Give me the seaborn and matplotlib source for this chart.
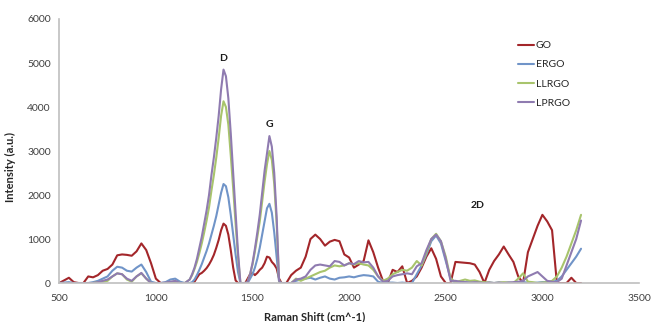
import numpy as np
import pandas as pd
import matplotlib
matplotlib.use("Agg")
import matplotlib.pyplot as plt
import seaborn as sns

# Raman shift sample positions (cm^-1): coarse, fine around D/G bands, coarse
shift = ([500 + 25 * i for i in range(28)]
         + [1187.5 + 12.5 * i for i in range(38)]
         + [1675 + 25 * i for i in range(62)])

go = ([0, 60, 120, 20, 0, 0, 150, 130, 180, 280, 320, 420, 630, 650, 640, 620, 720, 900, 750, 450,
       100, 0, 0, 0, 0, 0, 0, 0]
      + [0, 30, 120, 200, 230, 280, 340, 420, 520, 640, 800, 980, 1200, 1350, 1300, 1100, 750, 350, 60, 0,
         0, 0, 0, 100, 200, 230, 180, 230, 300, 350, 450, 600, 580, 480, 420, 330, 100, 0]
      + [0, 180, 280, 350, 600, 1000, 1100, 1000, 850, 940, 980, 950, 650,
         580, 350, 420, 500, 970, 700, 350, 50, 0, 300, 250, 380, 0, 50, 150, 350, 600, 790, 550, 150,
         0, 0, 480, 470, 460, 450, 420, 250, 0, 300, 500, 650, 830, 650, 480, 150, 0, 700, 1000, 1300,
         1550, 1400, 1200, 0, 0, 0, 120, 0, 0])

ergo = ([0, 10, 20, 0, 0, 0, 0, 20, 50, 100, 150, 280, 370, 350, 280, 260, 350, 420, 250, 30,
         0, 0, 20, 80, 100, 30, 0, 0]
        + [20, 80, 180, 300, 430, 580, 730, 900, 1100, 1300, 1520, 1780, 2050, 2250, 2200, 1950, 1550, 1100, 650, 250,
           0, 0, 0, 0, 100, 200, 350, 550, 800, 1100, 1400, 1700, 1800, 1600, 1150, 600, 30, 0]
        + [0, 0, 50, 80, 100, 120, 80, 120, 150, 100, 80, 120, 130,
           150, 130, 160, 180, 170, 150, 30, 0, 10, 10, 0, 10, 0, 0, 200, 400, 650, 950, 1080, 900,
           500, 100, 0, 10, 20, 10, 0, 10, 0, 10, 0, 10, 0, 10, 0, 10, 20, 10, 0, 10,
           20, 20, 30, 50, 150, 300, 450, 600, 780])

llrgo = ([0, 0, 0, 0, 0, 0, 0, 0, 20, 30, 50, 150, 220, 200, 80, 30, 150, 220, 100, 0,
          0, 0, 0, 20, 30, 0, 0, 80]
         + [180, 320, 480, 680, 900, 1150, 1420, 1720, 2100, 2450, 2850, 3300, 3800, 4130, 4000, 3600, 2900, 2150, 1350, 600,
            0, 0, 0, 30, 200, 420, 720, 1050, 1400, 1850, 2300, 2700, 3000, 2800, 2250, 1350, 50, 0]
         + [0, 0, 100, 50, 100, 150, 200, 250, 280, 350, 400, 380, 400,
            450, 420, 450, 420, 400, 300, 150, 50, 100, 200, 250, 300, 280, 350, 500, 400, 700, 1000, 1120, 950,
            600, 100, 20, 50, 80, 50, 60, 30, 20, 10, 0, 10, 20, 10, 0, 100, 220, 30, 20, 0,
            10, 20, 50, 150, 350, 600, 900, 1200, 1550])

lprgo = ([0, 0, 0, 0, 0, 0, 0, 0, 20, 50, 80, 150, 220, 200, 100, 50, 150, 230, 100, 0,
          0, 0, 10, 30, 50, 0, 0, 80]
         + [200, 350, 550, 800, 1050, 1350, 1650, 2000, 2450, 2850, 3300, 3800, 4400, 4850, 4700, 4200, 3400, 2500, 1600, 700,
            0, 0, 0, 30, 200, 450, 780, 1150, 1550, 2050, 2550, 2950, 3340, 3100, 2500, 1500, 50, 0]
         + [0, 0, 80, 100, 150, 300, 400, 420, 400, 380, 500, 480, 400,
            450, 430, 500, 470, 480, 350, 150, 30, 50, 150, 180, 200, 220, 200, 380, 450, 750, 1000, 1100, 950,
            550, 50, 50, 30, 20, 10, 20, 10, 0, 10, 0, 10, 0, 10, 20, 30, 50, 150, 200, 250,
            150, 50, 30, 20, 100, 400, 700, 1000, 1420])

series_names = ["GO", "ERGO", "LLRGO", "LPRGO"]
colors = ["#A3262A", "#7094C8", "#A8C46C", "#8F7BB0"]

peak_labels = ["D", "G", "2D"]
peak_x = [1350, 1590, 2665]
peak_y = [5100, 3610, 1770]

frames = []
for name, vals in zip(series_names, [go, ergo, llrgo, lprgo]):
    frames.append(pd.DataFrame({"shift": shift, "intensity": vals, "sample": name}))
df = pd.concat(frames, ignore_index=True)

sns.set_style("white")
plt.rcParams["font.family"] = ["Lato", "DejaVu Sans"]

fig = plt.figure(figsize=(6.51, 3.22), dpi=100)
ax = fig.add_axes([0.091, 0.121, 0.8906, 0.82])

sns.lineplot(data=df, x="shift", y="intensity", hue="sample", hue_order=series_names,
             palette=colors, linewidth=1.5, ax=ax, legend=True)

ax.set_xlim(500, 3500)
ax.set_ylim(0, 6000)
ax.set_xticks(range(500, 3501, 500))
ax.set_yticks(range(0, 6001, 1000))
ax.tick_params(axis="both", labelsize=7.5, colors="#BFBFBF", labelcolor="#404040",
               length=3, width=1, direction="out", pad=3)
ax.tick_params(axis="x", pad=5)
for side in ["top", "right"]:
    ax.spines[side].set_visible(False)
for side in ["left", "bottom"]:
    ax.spines[side].set_color("#BFBFBF")
    ax.spines[side].set_linewidth(1.2)

ax.set_xlabel("Raman Shift (cm^-1)", fontsize=8, fontweight="bold", color="#262626")
ax.set_ylabel("Intensity (a.u.)", fontsize=8, fontweight="bold", color="#262626")
ax.xaxis.set_label_coords(0.441, -0.105)
ax.yaxis.set_label_coords(-0.075, 0.44)

for lab, px, py in zip(peak_labels, peak_x, peak_y):
    ax.text(px, py, lab, fontsize=7.5, fontweight="bold", ha="center", va="center", color="#1a1a1a")

handles, labels = ax.get_legend_handles_labels()
ax.legend(handles, labels, loc="upper left", bbox_to_anchor=(0.784, 0.933), frameon=False,
          fontsize=7.5, handlelength=1.55, handletextpad=0.15, labelspacing=0.95,
          borderaxespad=0, labelcolor="#262626")

fig.savefig("out.png", dpi=100)
